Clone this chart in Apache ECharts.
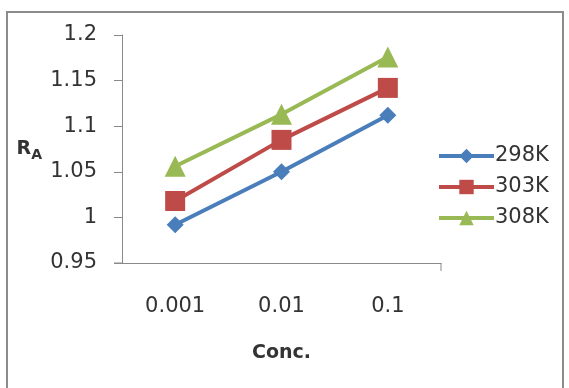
<!DOCTYPE html>
<html>
<head>
<meta charset="utf-8">
<script src="https://cdn.jsdelivr.net/npm/echarts@6/dist/echarts.min.js"></script>
<style>html,body{margin:0;padding:0;background:#fff}#c{width:569px;height:388px}</style>
</head>
<body>
<div id="c"></div>
<script>
const categories = ['0.001', '0.01', '0.1'];
const seriesNames = ['298K', '303K', '308K'];
const s298 = [0.992, 1.050, 1.112];
const s303 = [1.018, 1.085, 1.142];
const s308 = [1.056, 1.113, 1.176];
const yTicks = { min: 0.95, max: 1.2, interval: 0.05 };

const FONT = '"DejaVu Sans", "Liberation Sans", sans-serif';
const TXT = '#333333';
const AX = '#8a8a8a';

const chart = echarts.init(document.getElementById('c'), null, { renderer: 'canvas' });

function mk(name, data, color, symbol, size) {
  return {
    name: name, type: 'line', data: data,
    symbol: symbol, symbolSize: size,
    lineStyle: { color: color, width: 4 },
    itemStyle: { color: color },
    emphasis: { disabled: true },
    animation: false
  };
}

chart.setOption({
  animation: false,
  backgroundColor: '#fff',
  grid: { left: 122, right: 128, top: 35, bottom: 125 },
  legend: {
    orient: 'vertical', left: 432, top: 140,
    itemWidth: 55, itemHeight: 18, itemGap: 9,
    lineStyle: { width: 4 },
    textStyle: { fontFamily: FONT, fontSize: 21, color: TXT, lineHeight: 22, padding: [0, 0, 0, -4] },
    data: seriesNames
  },
  xAxis: {
    type: 'category', data: categories, boundaryGap: true,
    name: 'Conc.', nameLocation: 'middle', nameGap: 81,
    nameTextStyle: { fontFamily: FONT, fontSize: 19, fontWeight: 'bold', color: TXT },
    axisLine: { lineStyle: { color: AX, width: 1 } },
    axisTick: { alignWithLabel: true, inside: false, length: 8, lineStyle: { color: AX } },
    axisLabel: { fontFamily: FONT, fontSize: 21, color: TXT, margin: 33 },
    splitLine: { show: false }
  },
  yAxis: {
    type: 'value', min: yTicks.min, max: yTicks.max, interval: yTicks.interval,
    name: '{r|R}{a|A}', nameLocation: 'middle', nameRotate: 0, nameGap: 80,
    nameTextStyle: {
      rich: {
        r: { fontFamily: FONT, fontSize: 19, fontWeight: 'bold', color: TXT },
        a: { fontFamily: FONT, fontSize: 14, fontWeight: 'bold', color: TXT, padding: [12, 0, 0, 0] }
      }
    },
    axisLine: { show: true, lineStyle: { color: AX, width: 1 } },
    axisTick: { show: true, length: 8, lineStyle: { color: AX } },
    axisLabel: { fontFamily: FONT, fontSize: 21, color: TXT, margin: 25,
      formatter: v => String(parseFloat(v.toFixed(2))) },
    splitLine: { show: false }
  },
  series: [
    mk(seriesNames[0], s298, '#4A7EBB', 'diamond', 17),
    mk(seriesNames[1], s303, '#BE4B48', 'rect', 20),
    mk(seriesNames[2], s308, '#98B954', 'triangle', 21)
  ]
});

// Frame and end ticks derived from grid rect
const rect = chart.getModel().getComponent('grid').coordinateSystem.getRect();
chart.setOption({
  graphic: [
    { type: 'rect', shape: { x: 7, y: 12, width: 556, height: 390 },
      style: { fill: null, stroke: '#8c8c8c', lineWidth: 2 }, silent: true },
    { type: 'line', shape: { x1: rect.x + rect.width, y1: rect.y + rect.height, x2: rect.x + rect.width, y2: rect.y + rect.height + 8 },
      style: { stroke: AX, lineWidth: 1 }, silent: true },
    { type: 'line', shape: { x1: rect.x - 8, y1: rect.y + rect.height, x2: rect.x, y2: rect.y + rect.height },
      style: { stroke: AX, lineWidth: 1 }, silent: true }
  ]
});
</script>
</body>
</html>
